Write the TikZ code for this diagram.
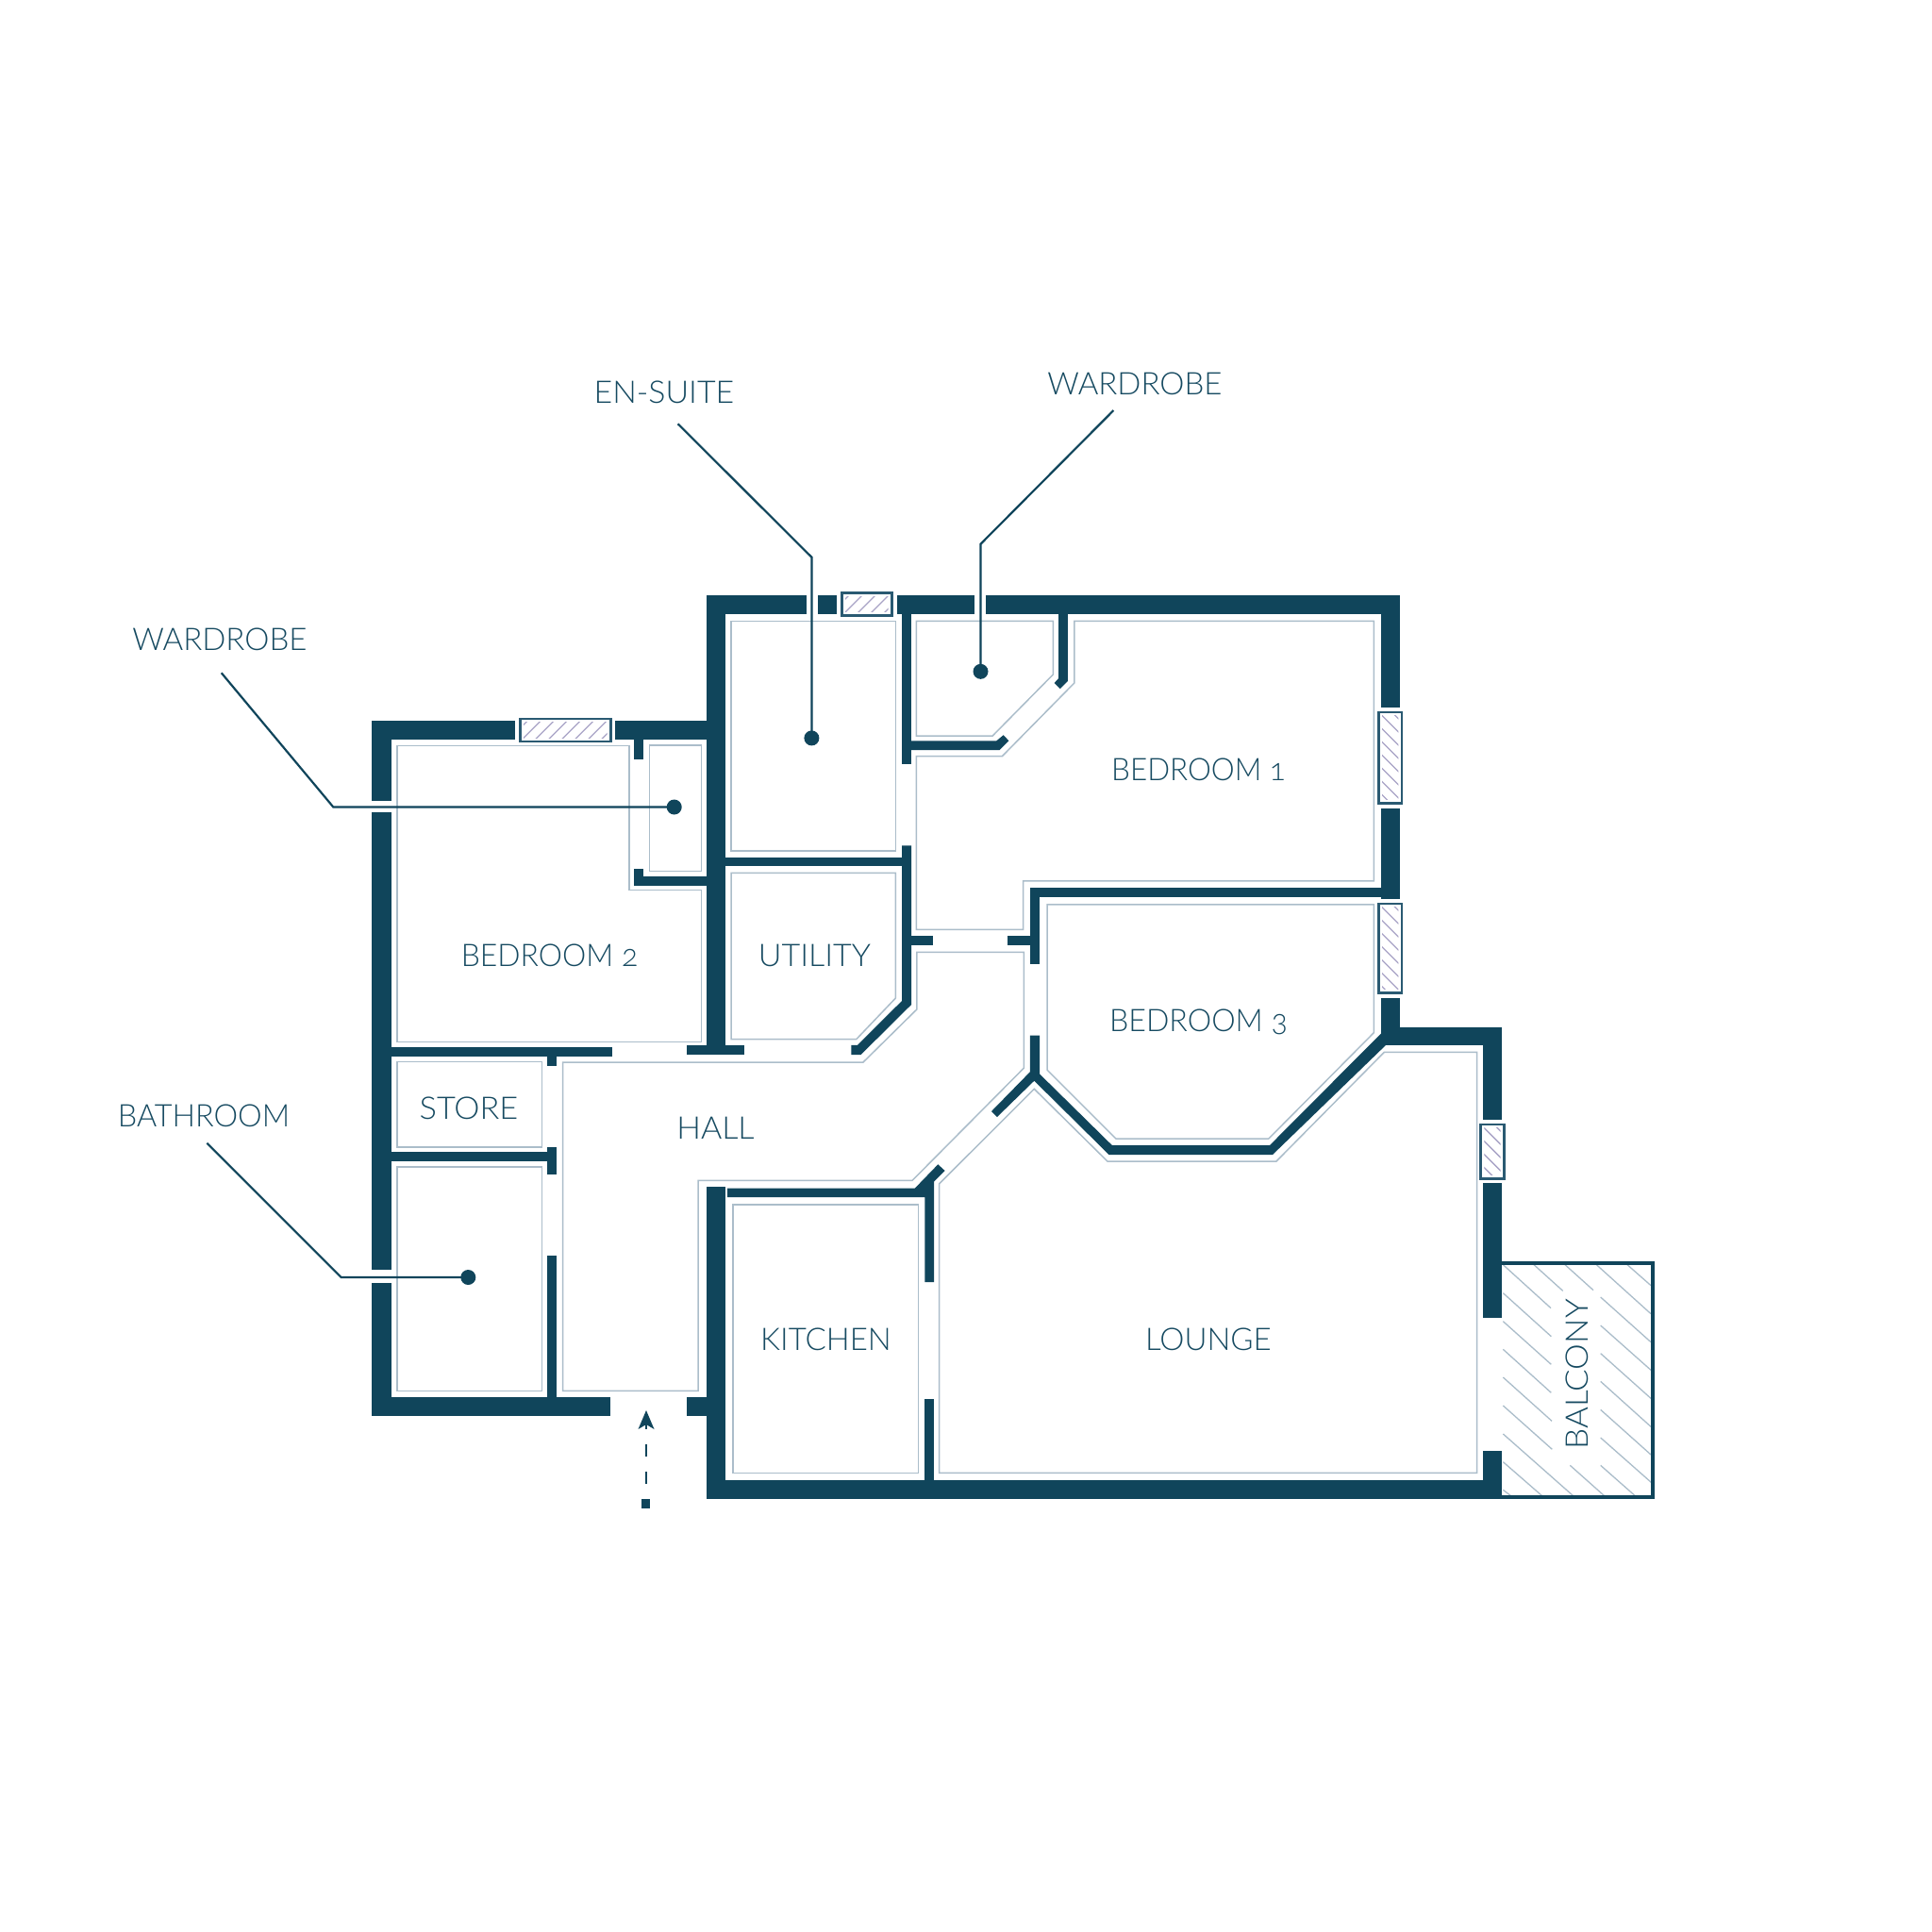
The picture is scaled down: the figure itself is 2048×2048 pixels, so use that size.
\documentclass[tikz,border=0pt]{standalone}
\usepackage{fontspec}
\newfontfamily\lab[Numbers=OldStyle]{Lato Light}
\definecolor{wallc}{HTML}{10455B}
\definecolor{textc}{HTML}{164A61}
\definecolor{palec}{HTML}{ABBDCA}
\definecolor{hatchc}{HTML}{A8A3C6}
\definecolor{winc}{HTML}{2A5A72}
\tikzset{
  wallfill/.style={fill=wallc,draw=none},
  room/.style={draw=palec,line width=1.5pt,line join=miter},
  hatchline/.style={draw=palec,line width=1.3pt},
  winbox/.style={draw=winc,fill=white,line width=2.6pt},
  winhatch/.style={draw=hatchc,line width=1.3pt},
  leader/.style={draw=wallc,line width=2.2pt,line join=miter},
  dot/.style={circle,fill=wallc,inner sep=0pt,minimum size=16pt},
  lbl/.style={text=textc,font=\lab\fontsize{33}{33}\selectfont,anchor=base,inner sep=0pt,outer sep=0pt},
}
\newcommand{\fitw}[2]{\scalebox{#1}[1]{#2}}
\newcommand{\wallr}[4]{\fill[wallfill] (#1,#2) rectangle (#3,#4);}
\newcommand{\winup}[4]{%
  \draw[winbox] ({#1+1.3},{#2+1.3}) rectangle ({#3-1.3},{#4-1.3});
  \begin{scope}
    \clip ({#1+5},{#2+5}) rectangle ({#3-5},{#4-5});
    \foreach \o in {-28,-14,...,120}
      \draw[winhatch] ({#1+\o},#4) -- ({#1+\o+#4-#2},#2);
  \end{scope}}
\newcommand{\windown}[4]{%
  \draw[winbox] ({#1+1.3},{#2+1.3}) rectangle ({#3-1.3},{#4-1.3});
  \begin{scope}
    \clip ({#1+5},{#2+5}) rectangle ({#3-5},{#4-5});
    \foreach \o in {-28,-14,...,120}
      \draw[winhatch] (#1,{#2+\o}) -- (#3,{#2+\o+#3-#1});
  \end{scope}}
\begin{document}
\begin{tikzpicture}[x=1pt,y=-1pt]
\useasboundingbox (0,0) rectangle (2048,2048);
\fill[white] (0,0) rectangle (2048,2048);
% pale room outlines
\draw[room] (420.8,790.6) -- (667,790.6) -- (667,943.7) -- (743.3,943.7) -- (743.3,1104.5) -- (420.8,1104.5) -- cycle;
\draw[room] (688.6,789.8) rectangle (743.3,923.7);
\draw[room] (775,658.4) rectangle (949.4,902);
\draw[room] (775,925.3) -- (949.4,925.3) -- (949.4,1058) -- (907.8,1101.6) -- (775,1101.6) -- cycle;
\draw[room] (420.8,1125.3) rectangle (574.3,1216);
\draw[room] (420.8,1236.8) rectangle (574.3,1474.3);
\draw[room] (596.7,1126) -- (915,1126) -- (971.8,1070) -- (971.8,1009.4) -- (1085.3,1009.4) -- (1085.3,1132.2) -- (967,1251.4) -- (740,1251.4) -- (740,1474.3) -- (596.7,1474.3) -- cycle;
\draw[room] (777,1276.8) rectangle (973.5,1561.4);
\draw[room] (995.5,1255) -- (1096.3,1154.3) -- (1173.9,1231) -- (1353,1231) -- (1467.3,1115.4) -- (1565.7,1115.4) -- (1565.7,1561.4) -- (995.5,1561.4) -- cycle;
\draw[room] (1110.2,958.8) -- (1456.3,958.8) -- (1456.3,1094.7) -- (1344.9,1207) -- (1182.9,1207) -- (1110.2,1134.3) -- cycle;
\draw[room] (971.4,801.6) -- (1062.4,801.6) -- (1138.8,724) -- (1138.8,658.4) -- (1456.3,658.4) -- (1456.3,933.9) -- (1084.5,933.9) -- (1084.5,985.3) -- (971.4,985.3) -- cycle;
\draw[room] (971.4,658.4) -- (1116.3,658.4) -- (1116.3,715) -- (1052.2,780) -- (971.4,780) -- cycle;
% balcony hatching
\foreach \a/\b/\c/\d in {160/512/312/650,258/512/350/595,357/512/447/593,457/512/630/668,555/512/630/578,
 160/602/313/740,160/692/313/829,160/781/313/919,160/870/315/1009,160/960/316/1099,160/1050/383/1247,160/1139/284/1247,160/1228/185/1247,
 470/615/630/758,470/705/630/847,470/794/630/937,470/883/630/1027,470/973/630/1116,470/1062/632/1205,470/1150/580/1247,373/1150/482/1247}
  \draw[hatchline] ({1540+\a/3},{1170+\b/3}) -- ({1540+\c/3},{1170+\d/3});
\draw[draw=wallc,line width=4pt,line join=miter] (1592,1338.7) -- (1752,1338.7) -- (1752,1587.4) -- (1592,1587.4);
% walls: straight pieces
\wallr{394.3}{763.7}{546}{784}
\wallr{394.3}{763.7}{414.7}{849.4}
\wallr{394.3}{860.8}{414.7}{1346.4}
\wallr{394.3}{1360.4}{414.7}{1501.4}
\wallr{394.3}{1481.4}{646.5}{1501.4}
\wallr{651.8}{763.7}{749.4}{784}
\wallr{749.4}{630.6}{768.6}{1118}
\wallr{749.4}{630.6}{855}{650.6}
\wallr{866.5}{630.6}{887}{650.6}
\wallr{950.6}{630.6}{1033}{650.6}
\wallr{1045.3}{630.6}{1484}{650.6}
\wallr{1464}{630.6}{1484}{749.8}
\wallr{1464}{856.7}{1484}{952.7}
\wallr{1464}{1057.6}{1484}{1108}
\wallr{1464}{1088.6}{1592}{1107.8}
\wallr{1572}{1088.6}{1592}{1186.7}
\wallr{1572}{1254.3}{1592}{1396.7}
\wallr{1572}{1537.7}{1592}{1589.3}
\wallr{749.4}{1569}{1592}{1589.3}
\wallr{749.4}{1258}{768.6}{1589}
\wallr{727.8}{1481.4}{749.4}{1501.4}
\wallr{672.2}{784}{682}{805}
\wallr{672.2}{921.2}{682}{939.2}
\wallr{672.2}{929}{749.4}{939.2}
\wallr{414.7}{1109.8}{648.6}{1120}
\wallr{580}{1109.8}{590}{1130}
\wallr{728}{1108}{789.4}{1118.4}
\wallr{414.7}{1221.4}{590}{1231.4}
\wallr{580}{1216}{590}{1245.4}
\wallr{580}{1331}{590}{1481.4}
\wallr{768.6}{908.6}{956}{918.4}
\wallr{956}{650}{966}{809.8}
\wallr{966}{992}{989}{1002}
\wallr{1091.8}{941.2}{1464}{951.4}
\wallr{1091.8}{941.2}{1102}{1021.6}
\wallr{1068}{992}{1092}{1002}
\wallr{980.4}{1482.5}{990.2}{1569}
% walls: pieces with diagonals
\fill[wallfill] (956,896.3) -- (966,896.3) -- (966,1065) -- (912.6,1118) -- (902.4,1118) -- (902.4,1107.8) -- (909,1107.8) -- (956,1061) -- cycle;
\fill[wallfill] (966,785.3) -- (1056.3,785.3) -- (1063.7,779.2) -- (1069.4,785.3) -- (1059.6,795) -- (966,795) -- cycle;
\fill[wallfill] (1122,650) -- (1131.8,650) -- (1131.8,722) -- (1123.7,730.2) -- (1117.6,724) -- (1122,719.2) -- cycle;
\fill[wallfill] (1091.8,1097.6) -- (1102,1097.6) -- (1102,1138.4) -- (1178.8,1214) -- (1346,1214) -- (1464,1095.5) -- (1472,1105) -- (1349,1224) -- (1175.5,1224) -- (1096.3,1145.7) -- (1057,1184) -- (1051,1178) -- (1091.8,1136.3) -- cycle;
\fill[wallfill] (771,1259.6) -- (969.8,1259.6) -- (994.3,1234.3) -- (1001.6,1241) -- (990.2,1252.5) -- (990.2,1359) -- (980.4,1359) -- (980.4,1269) -- (771,1269) -- cycle;
% windows
\winup{550}{760.7}{648.7}{787.3}
\winup{891}{627.3}{946.5}{653.9}
\windown{1460}{753.5}{1487.3}{852.7}
\windown{1460}{956.7}{1487.3}{1053.5}
\windown{1568.3}{1190.7}{1595.7}{1250.7}
% labels
\node[lbl] (ensuite) at (704,427) {\fitw{1.027}{EN-SUITE}};
\node[lbl] (wardtop) at (1203,418) {WARDROBE};
\node[lbl] (wardleft) at (232.9,689) {WARDROBE};
\node[lbl] (bathroom) at (216,1194) {\fitw{0.98}{BATHROOM}};
\node[lbl] (bed2) at (582.5,1024) {\fitw{0.966}{BEDROOM 2}};
\node[lbl] (utility) at (863.5,1024) {\fitw{1.03}{UTILITY}};
\node[lbl] (store) at (497,1186) {\fitw{1.04}{STORE}};
\node[lbl] (hall) at (758.5,1207) {\fitw{1.03}{HALL}};
\node[lbl] (kitchen) at (875.5,1431.8) {KITCHEN};
\node[lbl] (lounge) at (1281,1431.8) {LOUNGE};
\node[lbl] (bed1) at (1270.5,827) {\fitw{0.952}{BEDROOM 1}};
\node[lbl] (bed3) at (1270.5,1093.5) {\fitw{0.973}{BEDROOM 3}};
\node[lbl,rotate=90] (balcony) at (1683,1456.7) {\fitw{1.06}{BALCONY}};
% leaders
\node[dot] (d1) at (860.4,782.4) {};
\node[dot] (d2) at (1039.5,711.8) {};
\node[dot] (d3) at (714.7,855.5) {};
\node[dot] (d4) at (496.3,1354) {};
\coordinate (s1) at (718.6,449.3); \coordinate (b1) at (860.4,590.7);
\coordinate (s2) at (1180.4,435); \coordinate (b2) at (1039.5,576.7);
\coordinate (s3) at (234.7,713.3); \coordinate (b3) at (353.3,855.5);
\coordinate (s4) at (219.3,1211.7); \coordinate (b4) at (361.7,1354);
\draw[leader] (s1) -- (b1) -- (d1.center);
\draw[leader] (s2) -- (b2) -- (d2.center);
\draw[leader] (s3) -- (b3) -- (d3.center);
\draw[leader] (s4) -- (b4) -- (d4.center);
% entrance arrow
\node[fill=wallc,inner sep=0pt,minimum width=9.4pt,minimum height=10pt] (entry) at (684.7,1594) {};
\coordinate (shaftb) at (685,1573); \coordinate (shaftt) at (685,1505);
\draw[draw=wallc,line width=2.5pt,dash pattern=on 13.4pt off 15.6pt] (shaftb) -- (shaftt);
\fill[wallfill] (685,1495) -- (693.5,1515) -- (685,1510) -- (676.5,1515) -- cycle;
\end{tikzpicture}
\end{document}
